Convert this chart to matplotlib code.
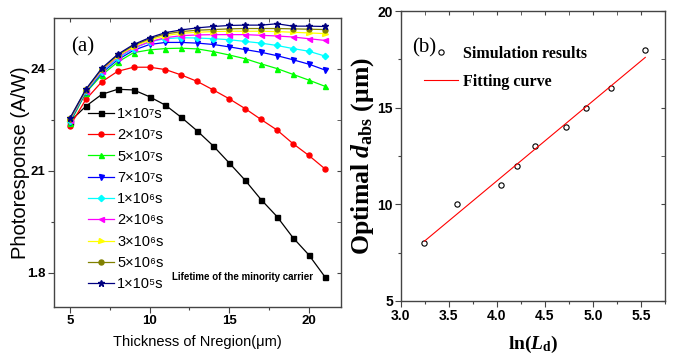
import matplotlib
matplotlib.use("Agg")
import matplotlib.pyplot as plt
import numpy as np
from matplotlib.ticker import MultipleLocator, FixedLocator

plt.rcParams['font.family'] = ['Liberation Sans', 'DejaVu Sans']
plt.rcParams['mathtext.fontset'] = 'custom'
plt.rcParams['mathtext.rm'] = 'Liberation Serif:bold'
plt.rcParams['mathtext.it'] = 'Liberation Serif:italic:bold'
plt.rcParams['mathtext.bf'] = 'Liberation Serif:bold'

# ---------------- data: panel (a) ----------------
thickness = [5, 6, 7, 8, 9, 10, 11, 12, 13, 14, 15, 16, 17, 18, 19, 20, 21]
labels_a = ["1×10⁷s", "2×10⁷s", "5×10⁷s", "7×10⁷s", "1×10⁶s",
            "2×10⁶s", "3×10⁶s", "5×10⁶s", "1×10⁵s"]
resp_1e7 = [22.45, 22.90, 23.25, 23.40, 23.38, 23.18, 22.93, 22.57, 22.17,
            21.73, 21.23, 20.72, 20.15, 19.65, 19.03, 18.52, 17.88]
resp_2e7 = [22.32, 23.10, 23.62, 23.93, 24.05, 24.05, 23.98, 23.82, 23.63,
            23.38, 23.12, 22.83, 22.51, 22.20, 21.80, 21.45, 21.06]
resp_5e7 = [22.40, 23.30, 23.82, 24.20, 24.48, 24.56, 24.60, 24.61, 24.59,
            24.51, 24.41, 24.30, 24.15, 24.01, 23.84, 23.67, 23.49]
resp_7e7 = [22.45, 23.32, 23.88, 24.27, 24.55, 24.72, 24.78, 24.78, 24.76,
            24.72, 24.65, 24.57, 24.49, 24.39, 24.27, 24.14, 23.97]
resp_1e6 = [22.48, 23.34, 23.92, 24.31, 24.60, 24.80, 24.89, 24.92, 24.91,
            24.89, 24.86, 24.81, 24.76, 24.69, 24.60, 24.52, 24.38]
resp_2e6 = [22.50, 23.36, 23.95, 24.35, 24.62, 24.80, 24.92, 24.98, 25.00,
            25.01, 25.01, 25.01, 24.99, 24.97, 24.94, 24.89, 24.84]
resp_3e6 = [22.52, 23.37, 23.98, 24.38, 24.66, 24.85, 24.98, 25.05, 25.08,
            25.10, 25.11, 25.11, 25.11, 25.10, 25.08, 25.06, 25.04]
resp_5e6 = [22.53, 23.39, 24.00, 24.41, 24.69, 24.89, 25.03, 25.10, 25.14,
            25.16, 25.18, 25.19, 25.19, 25.19, 25.18, 25.17, 25.16]
resp_1e5 = [22.55, 23.40, 24.02, 24.43, 24.72, 24.92, 25.07, 25.15, 25.21,
            25.25, 25.28, 25.29, 25.29, 25.33, 25.26, 25.26, 25.25]
series_a = [resp_1e7, resp_2e7, resp_5e7, resp_7e7, resp_1e6,
            resp_2e6, resp_3e6, resp_5e6, resp_1e5]
colors_a = ['#000000', '#ff0000', '#00ff00', '#0000ff', '#00ffff',
            '#ff00ff', '#ffff00', '#808000', '#000080']
markers_a = ['s', 'o', '^', 'v', 'D', '<', '>', 'o', '*']
ytick_vals_a = [18, 21, 24]
ytick_labels_a = ['1.8', '21', '24']

# ---------------- data: panel (b) ----------------
ln_Ld = [3.24, 3.59, 4.04, 4.21, 4.40, 4.72, 4.93, 5.19, 5.545]
d_abs = [8, 10, 11, 12, 13, 14, 15, 16, 18]
fit_x = [3.25, 5.545]
fit_y = [8.1, 17.6]

W, H = 681, 358
fig = plt.figure(figsize=(W / 100, H / 100), dpi=100)

def fx(px):
    return px / W

def fy(py):
    return 1 - py / H

spine_col = '#444444'

# ---------------- panel (a) ----------------
axa_w = 340.7 - 54
axa = fig.add_axes([fx(54), fy(306.5), axa_w / W, (306.5 - 18) / H])
for ys, c, m, lab in zip(series_a, colors_a, markers_a, labels_a):
    ms = 4.5 if m in ('*',) else 3.6
    if m == 'D':
        ms = 3.2
    axa.plot(thickness, ys, color=c, lw=0.9, marker=m, ms=ms, mec=c, mfc=c,
             label=lab)
axa.set_xlim(4, 22)
axa.set_ylim(17, 25.5)
axa.xaxis.set_major_locator(FixedLocator([5, 10, 15, 20]))
axa.xaxis.set_minor_locator(MultipleLocator(2.5))
axa.yaxis.set_major_locator(FixedLocator(ytick_vals_a))
axa.yaxis.set_minor_locator(FixedLocator([19.5, 22.5]))
axa.set_yticklabels(ytick_labels_a)
for lab in axa.get_xticklabels() + axa.get_yticklabels():
    lab.set_fontweight('bold')
axa.tick_params(which='major', direction='out', length=4, width=0.8,
                labelsize=9.5, colors=spine_col, labelcolor='black', pad=2)
axa.tick_params(which='minor', direction='out', length=2.5, width=0.8,
                colors=spine_col)
for s in axa.spines.values():
    s.set_color(spine_col)
    s.set_linewidth(1.0)
sec = axa.secondary_xaxis('top')
sec.set_xticks([5, 10, 15, 20])
sec.xaxis.set_minor_locator(MultipleLocator(2.5))
sec.tick_params(which='both', direction='in', length=3, labeltop=False,
                colors=spine_col)
sec.spines['top'].set_visible(False)
secy = axa.secondary_yaxis('right')
secy.set_yticks(ytick_vals_a)
secy.yaxis.set_minor_locator(FixedLocator([19.5, 22.5]))
secy.tick_params(which='both', direction='in', length=3, labelright=False,
                 colors=spine_col)
secy.spines['right'].set_visible(False)

axa.set_ylabel('Photoresponse (A/W)', fontsize=14.5)
axa.yaxis.set_label_coords((30 - 54) / axa_w, 0.5)
axa.set_xlabel('Thickness of Nregion(μm)', fontsize=10.5, labelpad=6)
axa.text(0.101, 0.90, '(a)', transform=axa.transAxes, fontsize=15,
         family='Liberation Serif', ha='center', va='center')
axa.text((313 - 54) / axa_w, 0.102, 'Lifetime of the minority carrier',
         transform=axa.transAxes, fontsize=7.0, fontweight='bold',
         ha='right', va='center')
axa.legend(loc='upper left', bbox_to_anchor=(fx(88), fy(107)),
           bbox_transform=fig.transFigure, frameon=False, fontsize=10.5,
           handlelength=1.75, handletextpad=0.25, labelspacing=0.5,
           borderpad=0, borderaxespad=0, markerscale=1.0)

# ---------------- panel (b) ----------------
axb_w = 665 - 400.5
axb = fig.add_axes([fx(400.5), fy(301), axb_w / W, (301 - 11) / H])
axb.plot(ln_Ld, d_abs, linestyle='none', marker='o', ms=3.8, mfc='none',
         mec='black', mew=0.8, label='Simulation results')
axb.plot(fit_x, fit_y, color='#ff0000', lw=0.8, label='Fitting curve')
axb.set_xlim(3.0, 5.75)
axb.set_ylim(5, 20)
axb.xaxis.set_major_locator(MultipleLocator(0.5))
axb.xaxis.set_minor_locator(MultipleLocator(0.25))
axb.yaxis.set_major_locator(MultipleLocator(5))
axb.yaxis.set_minor_locator(MultipleLocator(2.5))
axb.set_xticks([3.0, 3.5, 4.0, 4.5, 5.0, 5.5])
axb.set_xticklabels(['3.0', '3.5', '4.0', '4.5', '5.0', '5.5'])
for lab in axb.get_xticklabels() + axb.get_yticklabels():
    lab.set_fontweight('bold')
axb.tick_params(which='major', direction='out', length=4, width=0.8,
                labelsize=10, colors=spine_col, labelcolor='black', pad=1.5)
axb.tick_params(which='minor', direction='out', length=2.5, width=0.8,
                colors=spine_col)
for s in axb.spines.values():
    s.set_color(spine_col)
    s.set_linewidth(1.0)
secb = axb.secondary_xaxis('top')
secb.xaxis.set_major_locator(MultipleLocator(0.5))
secb.xaxis.set_minor_locator(MultipleLocator(0.25))
secb.tick_params(which='both', direction='in', length=3, labeltop=False,
                 colors=spine_col)
secb.spines['top'].set_visible(False)
secby = axb.secondary_yaxis('right')
secby.yaxis.set_major_locator(MultipleLocator(5))
secby.yaxis.set_minor_locator(MultipleLocator(2.5))
secby.tick_params(which='both', direction='in', length=3, labelright=False,
                  colors=spine_col)
secby.spines['right'].set_visible(False)

axb.set_ylabel(r'Optimal $d_{\mathregular{abs}}$ (μm)', fontsize=18.5,
               family='Liberation Serif', fontweight='bold')
axb.yaxis.set_label_coords((376 - 400.5) / axb_w, 0.5)
axb.set_xlabel(r'ln($L_{\mathregular{d}}$)', fontsize=14,
               family='Liberation Serif', fontweight='bold', labelpad=8)
axb.text(0.091, 0.874, '(b)', transform=axb.transAxes, fontsize=15,
         family='Liberation Serif', ha='center', va='center')
axb.legend(loc='upper left', bbox_to_anchor=(fx(424), fy(46)),
           bbox_transform=fig.transFigure, frameon=False,
           prop={'family': 'Liberation Serif', 'weight': 'bold', 'size': 11.5},
           handlelength=2.1, handletextpad=0.35, labelspacing=0.75,
           borderpad=0, borderaxespad=0)

fig.savefig('out.png', dpi=100)
